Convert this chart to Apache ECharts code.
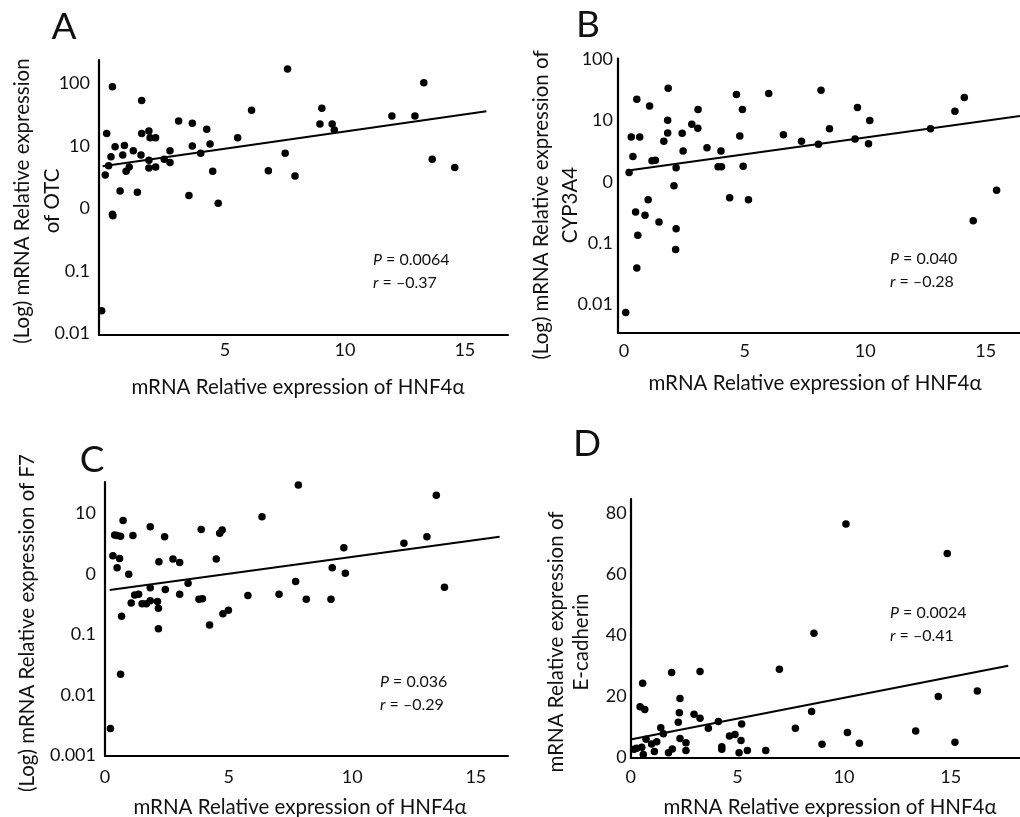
<!DOCTYPE html>
<html>
<head>
<meta charset="utf-8">
<script src="https://cdn.jsdelivr.net/npm/echarts@6/dist/echarts.min.js"></script>
<style>
  html, body { margin: 0; padding: 0; background: #fff; }
  #chart { width: 1020px; height: 817px; }
</style>
</head>
<body>
<div id="chart"></div>
<script>
// A: OTC vs HNF4a (log y)
const otcX = [-0.14, 0.31, 0.07, 0.01, 0.15, 0.25, 0.42, 0.31, 0.33, 0.63, 0.74, 0.81, 0.88, 1.01, 1.18, 1.35, 1.5, 1.53, 1.53, 1.83, 1.88, 1.83, 1.83, 2.11, 2.11, 2.47, 2.71, 2.71, 3.07, 3.5, 3.64, 3.64, 3.99, 4.24, 4.38, 4.49, 4.72, 5.53, 6.11, 6.81, 7.51, 7.61, 7.92, 8.96, 9.04, 9.47, 9.56, 11.96, 12.92, 13.29, 13.64, 14.58]
const otcY = [0.023, 88, 15.8, 3.4, 4.8, 6.7, 9.7, 0.8, 0.76, 1.9, 7.1, 10.1, 3.9, 4.6, 8.3, 1.8, 7.1, 53, 15.8, 17.3, 13.5, 5.9, 4.4, 13.5, 4.6, 6.1, 8.3, 5.4, 25, 1.6, 22.9, 9.9, 7.6, 18.4, 10.7, 3.9, 1.2, 13.5, 37, 4.0, 7.6, 170, 3.3, 22.3, 40, 22.3, 17.9, 30, 30, 102, 6.1, 4.5]
const otcFitX = [-0.1, 15.9]
const otcFitY = [4.7, 35.6]

// B: CYP3A4 vs HNF4a (log y)
const cypX = [0.07, 0.21, 0.30, 0.37, 0.53, 0.65, 0.48, 0.57, 0.53, 0.87, 1.0, 1.06, 1.16, 1.3, 1.45, 1.65, 1.83, 1.81, 1.81, 2.07, 2.16, 2.16, 2.14, 2.41, 2.45, 2.81, 3.06, 3.07, 3.44, 3.9, 4.04, 4.02, 4.38, 4.66, 4.8, 4.91, 4.94, 5.16, 6.0, 6.61, 7.36, 8.06, 8.17, 8.52, 9.58, 9.68, 10.14, 10.19, 12.71, 13.72, 14.11, 14.48, 15.45]
const cypY = [0.0073, 1.42, 5.4, 2.6, 22.5, 5.4, 0.32, 0.134, 0.039, 0.285, 0.51, 17.3, 2.2, 2.26, 0.22, 4.6, 34, 10.2, 6.3, 0.86, 1.7, 0.17, 0.078, 6.2, 3.2, 8.7, 7.5, 15.2, 3.6, 1.76, 1.76, 3.2, 0.55, 26.8, 5.6, 15.2, 1.8, 0.51, 27.8, 5.9, 4.6, 4.1, 31.5, 7.4, 5.0, 16.4, 4.2, 10.1, 7.4, 14.3, 23.9, 0.23, 0.73]
const cypFitX = [0.1, 16.42]
const cypFitY = [1.51, 11.9]

// C: F7 vs HNF4a (log y)
const f7X = [0.22, 0.32, 0.39, 0.49, 0.49, 0.59, 0.63, 0.67, 0.63, 0.73, 0.96, 1.06, 1.13, 1.2, 1.36, 1.5, 1.67, 1.83, 1.83, 1.83, 2.12, 2.16, 2.16, 2.18, 2.41, 2.44, 2.75, 3.02, 3.02, 3.36, 3.8, 3.94, 3.89, 4.23, 4.5, 4.64, 4.74, 4.77, 4.99, 5.78, 6.35, 7.04, 7.71, 7.82, 8.14, 9.14, 9.19, 9.66, 9.72, 12.09, 13.02, 13.4, 13.73]
const f7Y = [0.0028, 2.0, 4.4, 1.26, 4.3, 1.8, 4.2, 0.2, 0.022, 7.6, 0.99, 0.33, 4.3, 0.45, 0.46, 0.32, 0.32, 6.0, 0.59, 0.36, 0.35, 0.27, 0.124, 1.59, 4.1, 0.55, 1.76, 1.55, 0.46, 0.7, 0.38, 0.39, 5.4, 0.143, 1.76, 4.7, 5.3, 0.22, 0.25, 0.44, 8.8, 0.46, 0.75, 29.4, 0.38, 0.38, 1.26, 2.7, 1.03, 3.2, 4.1, 19.9, 0.6]
const f7FitX = [0.19, 15.96]
const f7FitY = [0.54, 4.1]

// D: E-cadherin vs HNF4a (linear y)
const cdhX = [0.16, 0.28, 0.44, 0.56, 0.66, 0.52, 0.59, 0.72, 0.98, 1.11, 1.22, 1.41, 1.53, 1.77, 1.95, 1.92, 2.23, 2.28, 2.31, 2.31, 2.59, 2.59, 2.97, 3.25, 3.25, 3.64, 4.11, 4.27, 4.27, 4.63, 4.89, 5.08, 5.17, 5.2, 5.47, 6.33, 6.97, 7.72, 8.48, 8.59, 8.97, 10.09, 10.16, 10.72, 13.36, 14.42, 14.84, 15.2, 16.25]
const cdhY = [2.6, 3.0, 16.6, 24.3, 15.7, 3.3, 0.9, 5.9, 4.4, 1.9, 5.1, 9.7, 7.7, 1.5, 2.7, 27.8, 11.5, 14.6, 19.3, 6.2, 4.8, 2.2, 14.1, 12.8, 28.1, 9.5, 11.7, 3.5, 2.6, 7.0, 7.5, 1.5, 5.5, 10.9, 2.2, 2.2, 28.9, 9.5, 15.0, 40.7, 4.3, 76.5, 8.1, 4.6, 8.6, 19.9, 66.8, 4.9, 21.7]
const cdhFitX = [0.05, 17.7]
const cdhFitY = [5.9, 30.05]

const panelLetters = ['A', 'B', 'C', 'D']
const xName = 'mRNA Relative expression of HNF4α'
const yNames = [
  '(Log) mRNA Relative expression\nof OTC',
  '(Log) mRNA Relative expression of\nCYP3A4',
  '(Log) mRNA Relative expression of F7',
  'mRNA Relative expression of\nE-cadherin'
]
const stats = [
  ['0.0064', '–0.37'],
  ['0.040', '–0.28'],
  ['0.036', '–0.29'],
  ['0.0024', '–0.41']
]

const FONT = 'Lato'
const INK = '#111'

const zip = (xs, ys) => xs.map((x, i) => [x, ys[i]])

// log axis labels: powers of ten only, 1 shown as "0" like the original
const logLabel = v => {
  const l = Math.log10(v)
  const e = Math.round(l)
  if (Math.abs(l - e) > 1e-6) return ''
  if (e === 0) return '0'
  return e > 0 ? String(Math.pow(10, e)) : Math.pow(10, e).toFixed(-e)
}
const fiveLabel = (skipZero) => v => {
  if (Math.abs(v % 5) > 1e-9 || v < 0) return ''
  if (skipZero && v === 0) return ''
  return String(v)
}

const axisLine = { show: true, onZero: false, lineStyle: { color: '#000', width: 2.2 } }
const labelStyle = { color: INK, fontSize: 18, fontFamily: FONT }

const grids = [
  { left: 99, top: 60, width: 409, height: 275 },
  { left: 618, top: 58.5, width: 402, height: 274.2 },
  { left: 105, top: 482, width: 403, height: 274 },
  { left: 630.7, top: 499, width: 389.3, height: 258.3 }
].map(g => Object.assign({ outerBoundsMode: 'none', containLabel: false }, g))

const xAxes = [
  { min: -0.25, max: 16.8, splitNumber: 3, fmt: fiveLabel(true), margin: 6 },
  { min: -0.25, max: 16.42, splitNumber: 3, fmt: fiveLabel(false), margin: 9 },
  { min: 0, max: 16.3, interval: 5, fmt: fiveLabel(false), margin: 12 },
  { min: 0, max: 18.25, interval: 5, fmt: fiveLabel(false), margin: 11 }
].map((a, i) => ({
  type: 'value',
  gridIndex: i,
  min: a.min,
  max: a.max,
  interval: a.interval,
  splitNumber: a.splitNumber,
  axisLine: axisLine,
  axisTick: { show: false },
  splitLine: { show: false },
  axisLabel: Object.assign({ formatter: a.fmt, margin: a.margin, hideOverlap: false }, labelStyle)
}))

const yAxes = [
  { type: 'log', min: 0.0094, max: 236, margin: 9 },
  { type: 'log', min: 0.0034, max: 104, margin: 5 },
  { type: 'log', min: 0.00098, max: 33, margin: 9 },
  { type: 'value', min: 0, max: 84.7, interval: 20, margin: 4 }
].map((a, i) => ({
  type: a.type,
  gridIndex: i,
  min: a.min,
  max: a.max,
  interval: a.interval,
  logBase: 10,
  axisLine: axisLine,
  axisTick: { show: false },
  splitLine: { show: false },
  axisLabel: Object.assign({
    formatter: a.type === 'log' ? logLabel : (v => (v % 20 === 0 ? String(v) : '')),
    margin: a.margin,
    hideOverlap: false
  }, labelStyle)
}))

const scatterData = [zip(otcX, otcY), zip(cypX, cypY), zip(f7X, f7Y), zip(cdhX, cdhY)]
const fitData = [zip(otcFitX, otcFitY), zip(cypFitX, cypFitY), zip(f7FitX, f7FitY), zip(cdhFitX, cdhFitY)]

const series = []
scatterData.forEach((d, i) => {
  series.push({
    type: 'scatter',
    xAxisIndex: i,
    yAxisIndex: i,
    data: d,
    symbol: 'circle',
    symbolSize: 7.5,
    itemStyle: { color: '#000', opacity: 1 },
    silent: true,
    z: 3
  })
  series.push({
    type: 'line',
    xAxisIndex: i,
    yAxisIndex: i,
    data: fitData[i],
    showSymbol: false,
    lineStyle: { color: '#000', width: 2 },
    silent: true,
    z: 2
  })
})

// text placement per panel
const letterPos = [[64, 27], [588, 25], [92, 460], [587, 444]]
const xNamePos = [[298, 387], [815, 383], [300, 807], [830, 807]]
const yNamePos = [[37.5, 201, 30], [556, 205, 29], [27, 623, 0], [569, 642, 25]]
const statPos = [[373, 260], [890, 259], [380, 682], [890, 613]]

const graphic = []
panelLetters.forEach((l, i) => {
  graphic.push({
    type: 'text', x: letterPos[i][0], y: letterPos[i][1],
    style: { text: l, fontSize: 37, fontFamily: FONT, fill: INK, textAlign: 'center', textVerticalAlign: 'middle' }
  })
  graphic.push({
    type: 'text', x: xNamePos[i][0], y: xNamePos[i][1],
    style: { text: xName, fontSize: 20.5, fontFamily: FONT, fill: INK, textAlign: 'center', textVerticalAlign: 'middle' }
  })
  graphic.push({
    type: 'text', x: yNamePos[i][0], y: yNamePos[i][1], rotation: Math.PI / 2,
    style: {
      text: yNames[i], fontSize: 20.5, fontFamily: FONT, fill: INK,
      lineHeight: yNamePos[i][2] || 24,
      textAlign: 'center', textVerticalAlign: 'middle'
    }
  })
  graphic.push({
    type: 'text', x: statPos[i][0], y: statPos[i][1] - 11.5,
    style: {
      text: '{i|P} = ' + stats[i][0] + '\n{i|r} = ' + stats[i][1],
      fontSize: 16, fontFamily: FONT, fill: INK, lineHeight: 23,
      textAlign: 'left', textVerticalAlign: 'top',
      rich: { i: { fontStyle: 'italic', fontSize: 16, fontFamily: FONT, fill: INK } }
    }
  })
})

const chart = echarts.init(document.getElementById('chart'), null, { renderer: 'canvas' })
chart.setOption({
  animation: false,
  backgroundColor: '#fff',
  grid: grids,
  xAxis: xAxes,
  yAxis: yAxes,
  series: series,
  graphic: graphic
})
</script>
</body>
</html>
